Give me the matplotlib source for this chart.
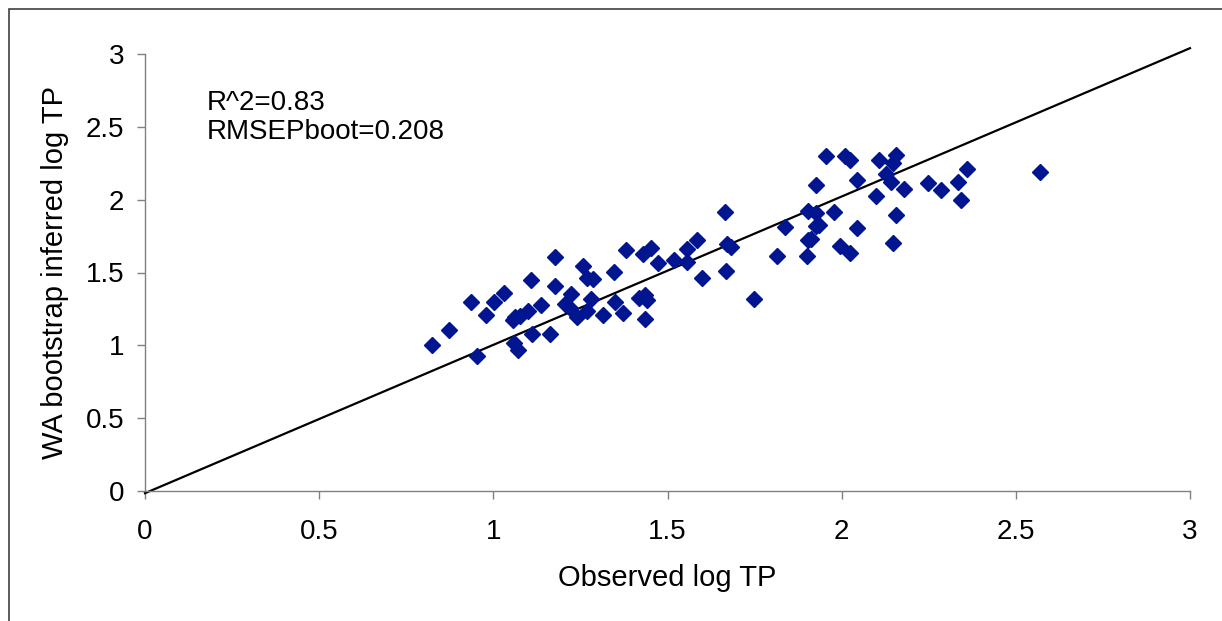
import matplotlib
matplotlib.use("Agg")
import matplotlib.pyplot as plt
from matplotlib.patches import Rectangle

# observed vs. WA bootstrap inferred log TP
observed = [
    0.825, 0.874, 0.937, 0.954, 0.979, 1.001, 1.032, 1.060, 1.070, 1.056,
    1.062, 1.077, 1.099, 1.108, 1.110, 1.137, 1.163, 1.177, 1.177, 1.206,
    1.223, 1.220, 1.239, 1.257, 1.268, 1.285, 1.280, 1.270, 1.314, 1.345,
    1.350, 1.373, 1.382, 1.434, 1.418, 1.440, 1.436, 1.431, 1.453, 1.474,
    1.519, 1.555, 1.557, 1.584, 1.598, 1.664, 1.670, 1.682, 1.669, 1.749,
    1.814, 1.837, 1.901, 1.903, 1.912, 1.903, 1.926, 1.926, 1.936, 1.927,
    1.955, 1.979, 1.995, 2.023, 2.011, 2.024, 2.043, 2.045, 2.098, 2.106,
    2.127, 2.142, 2.146, 2.155, 2.155, 2.148, 2.180, 2.249, 2.284, 2.335,
    2.359, 2.342, 2.568,
]
inferred = [
    1.004, 1.107, 1.295, 0.929, 1.210, 1.295, 1.359, 1.016, 0.966, 1.174,
    1.196, 1.201, 1.238, 1.450, 1.078, 1.274, 1.078, 1.608, 1.409, 1.283,
    1.352, 1.254, 1.192, 1.542, 1.464, 1.453, 1.318, 1.235, 1.208, 1.501,
    1.299, 1.224, 1.654, 1.178, 1.323, 1.311, 1.345, 1.627, 1.666, 1.563,
    1.588, 1.659, 1.574, 1.723, 1.464, 1.915, 1.695, 1.677, 1.508, 1.316,
    1.615, 1.812, 1.613, 1.723, 1.732, 1.924, 1.910, 1.819, 1.826, 2.102,
    2.301, 1.917, 1.682, 1.636, 2.301, 2.272, 2.137, 1.805, 2.025, 2.270,
    2.174, 2.119, 2.249, 2.308, 1.894, 1.700, 2.073, 2.112, 2.066, 2.119,
    2.210, 1.997, 2.191,
]

# fitted line end points
fit_x = [0, 3]
fit_y = [-0.015, 3.04]

ticks = [0, 0.5, 1, 1.5, 2, 2.5, 3]
tick_labels = ["0", "0.5", "1", "1.5", "2", "2.5", "3"]

plt.rcParams["font.family"] = ["Liberation Sans", "DejaVu Sans"]

fig = plt.figure(figsize=(12.22, 6.21), dpi=100)
# outer chart border
fig.patches.append(Rectangle((9 / 1222, -0.01), 1.1, 1 - 9 / 621 + 0.01,
                             transform=fig.transFigure, fill=False,
                             edgecolor="#404040", linewidth=1.2))

ax = fig.add_axes([145 / 1222, 1 - 491 / 621, (1190 - 145) / 1222, (491 - 54) / 621])

ax.plot(fit_x, fit_y, color="black", linewidth=1.6, clip_on=False, zorder=2)
ax.plot(observed, inferred, linestyle="none", marker="D", markersize=8,
        color="#00158F", markeredgecolor="#00158F", zorder=3)

ax.set_xlim(0, 3)
ax.set_ylim(0, 3)
ax.set_xticks(ticks)
ax.set_xticklabels(tick_labels)
ax.set_yticks(ticks)
ax.set_yticklabels(tick_labels)

for side in ("top", "right"):
    ax.spines[side].set_visible(False)
for side in ("left", "bottom"):
    ax.spines[side].set_color("#808080")
    ax.spines[side].set_linewidth(1)
ax.tick_params(direction="out", length=6, width=1, color="#808080",
               labelsize=20)
ax.tick_params(axis="x", pad=14)
ax.tick_params(axis="y", pad=9)

ax.set_xlabel("Observed log TP", fontsize=21, labelpad=14)
ax.set_ylabel("WA bootstrap inferred log TP", fontsize=21, labelpad=12)

ax.text(0.178, 2.567, "R^2=0.83\nRMSEPboot=0.208", fontsize=20,
        va="center", ha="left", linespacing=1.15)

fig.savefig("out.png", dpi=100)
